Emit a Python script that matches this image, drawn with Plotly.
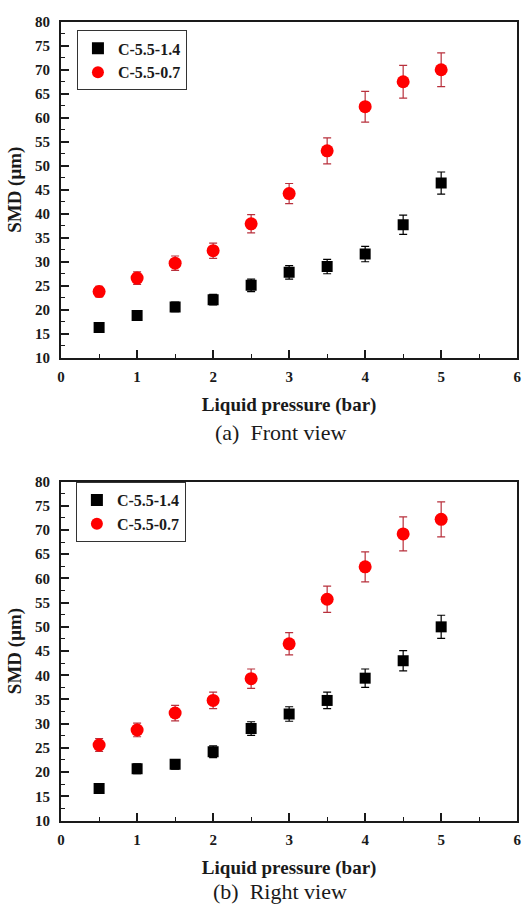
import plotly.graph_objects as go
from plotly.subplots import make_subplots

# Liquid pressure (bar)
pressure = [0.5, 1.0, 1.5, 2.0, 2.5, 3.0, 3.5, 4.0, 4.5, 5.0]

# (a) Front view: SMD (um) and error half-widths
front_c14 = [16.3, 18.8, 20.6, 22.1, 25.1, 27.8, 29.0, 31.6, 37.7, 46.4]
front_c14_err = [0.8, 0.9, 1.0, 1.1, 1.3, 1.4, 1.5, 1.6, 2.0, 2.3]
front_c07 = [23.8, 26.6, 29.7, 32.3, 37.9, 44.2, 53.1, 62.3, 67.5, 70.0]
front_c07_err = [1.1, 1.3, 1.5, 1.6, 1.9, 2.1, 2.7, 3.2, 3.4, 3.5]

# (b) Right view: SMD (um) and error half-widths
right_c14 = [16.6, 20.7, 21.6, 24.2, 29.0, 32.0, 34.8, 39.4, 43.0, 50.0]
right_c14_err = [0.8, 1.0, 1.0, 1.2, 1.4, 1.5, 1.7, 1.9, 2.1, 2.4]
right_c07 = [25.6, 28.7, 32.2, 34.8, 39.3, 46.5, 55.7, 62.4, 69.2, 72.2]
right_c07_err = [1.3, 1.4, 1.6, 1.7, 2.0, 2.3, 2.7, 3.1, 3.5, 3.6]

series_names = ["C-5.5-1.4", "C-5.5-0.7"]
captions = ["(a)  Front view", "(b)  Right view"]

x_ticks = [0, 1, 2, 3, 4, 5, 6]
y_ticks = [10, 15, 20, 25, 30, 35, 40, 45, 50, 55, 60, 65, 70, 75, 80]

FONT = "Liberation Serif, Times New Roman, serif"
INK = "#1a1a1a"
RED = "#ff0000"
RED_ERR = "#b8303c"

fig = make_subplots(rows=2, cols=1)

panels = [
    (front_c14, front_c14_err, front_c07, front_c07_err, "legend"),
    (right_c14, right_c14_err, right_c07, right_c07_err, "legend2"),
]

for i, (b, be, r, re_, leg) in enumerate(panels, start=1):
    fig.add_trace(go.Scatter(
        x=pressure, y=b, mode="markers", name=series_names[0], legend=leg,
        marker=dict(symbol="square", size=11, color="black"),
        error_y=dict(type="data", array=be, color="black", thickness=1.2, width=4),
    ), row=i, col=1)
    fig.add_trace(go.Scatter(
        x=pressure, y=r, mode="markers", name=series_names[1], legend=leg,
        marker=dict(symbol="circle", size=13, color=RED),
        error_y=dict(type="data", array=re_, color=RED_ERR, thickness=1.2, width=4),
    ), row=i, col=1)

axis_common = dict(
    showline=True, linecolor=INK, linewidth=2, mirror=True,
    showgrid=False, zeroline=False,
    ticks="inside", ticklen=8, tickwidth=1.5, tickcolor=INK,
    tickfont=dict(family=FONT, size=15, color=INK, weight="bold"),
)

x_dom = [0.1096, 0.985]
y_doms = [[0.6105, 0.9847], [0.0952, 0.4726]]

for i in (1, 2):
    fig.update_xaxes(
        range=[0, 6], tickvals=x_ticks, domain=x_dom, ticklabelstandoff=4,
        minor=dict(ticks="inside", ticklen=4, tickwidth=1.2, dtick=0.5, tickcolor=INK),
        title=dict(text="Liquid pressure (bar)", standoff=14,
                   font=dict(family=FONT, size=19, color=INK, weight="bold")),
        row=i, col=1, **axis_common,
    )
    fig.update_yaxes(
        range=[10, 80], tickvals=y_ticks, domain=y_doms[i - 1], ticklabelstandoff=6,
        minor=dict(ticks="inside", ticklen=4, tickwidth=1.2, dtick=2.5, tickcolor=INK),
        title=dict(text="SMD (μm)", standoff=8,
                   font=dict(family=FONT, size=19, color=INK, weight="bold")),
        row=i, col=1, **axis_common,
    )

legend_style = dict(
    bgcolor="white", bordercolor="#333333", borderwidth=1,
    font=dict(family=FONT, size=16, color=INK, weight="bold"),
    xanchor="left", yanchor="top", itemsizing="constant",
    tracegroupgap=0,
)
fig.update_layout(
    legend=dict(x=0.14, y=0.975, **legend_style),
    legend2=dict(x=0.138, y=0.472, **legend_style),
)

for cap, ypos in zip(captions, [432, 899]):
    fig.add_annotation(
        text=cap, xref="paper", yref="paper", x=0.53, y=1 - ypos / 914,
        xanchor="center", yanchor="middle", showarrow=False,
        font=dict(family=FONT, size=22, color=INK),
    )

fig.update_layout(
    width=529, height=914, margin=dict(l=0, r=0, t=0, b=0),
    plot_bgcolor="white", paper_bgcolor="white", showlegend=True,
)

fig.write_html("out.html")
